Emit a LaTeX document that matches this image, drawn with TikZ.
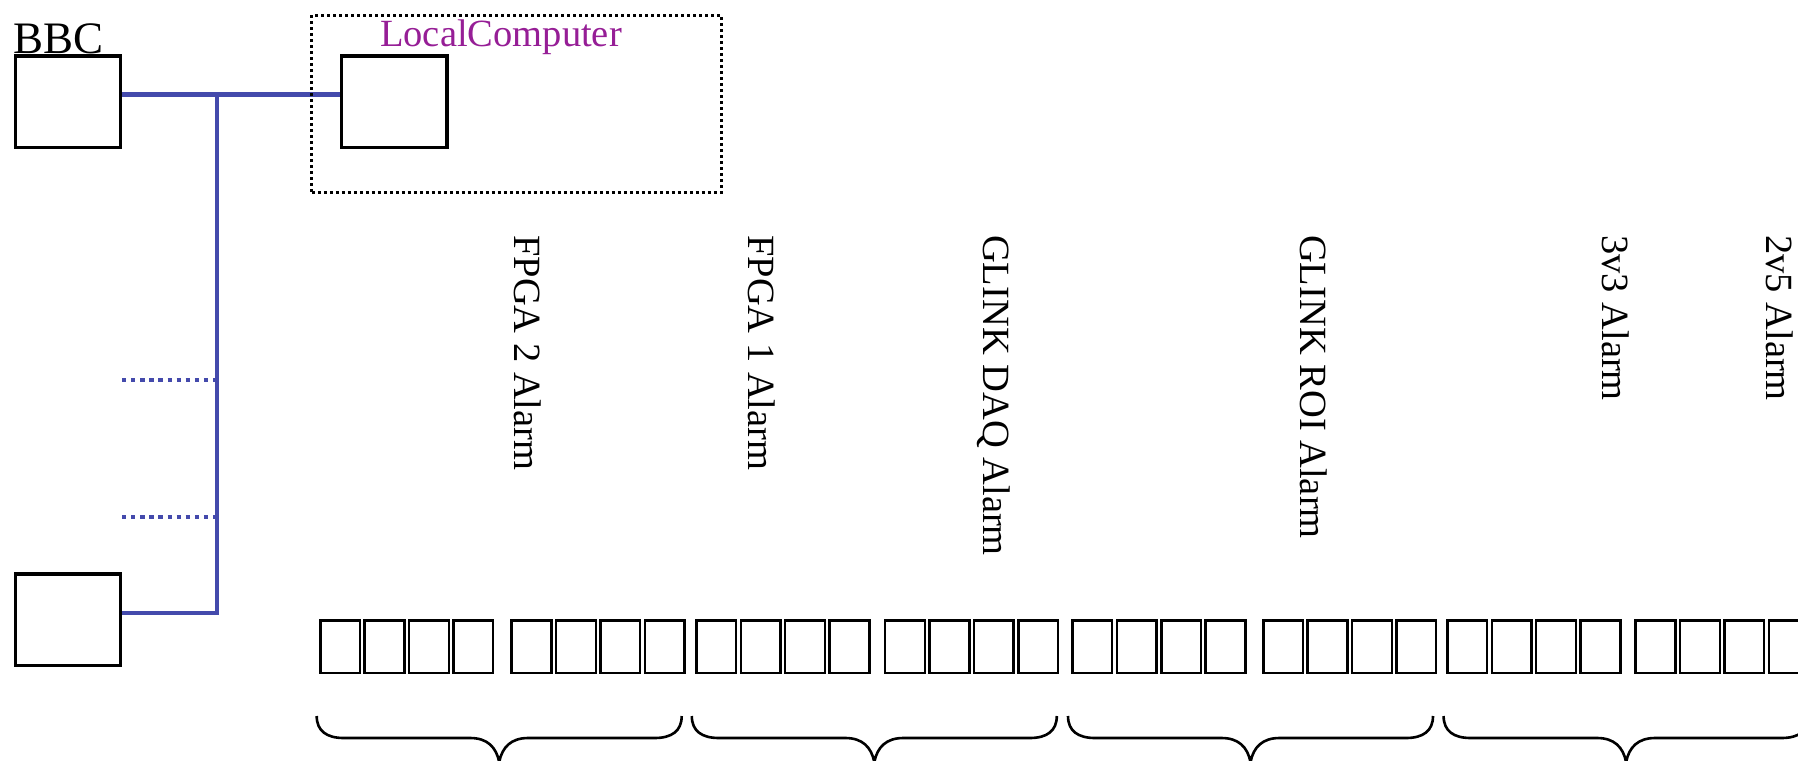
\documentclass[tikz,border=0pt]{standalone}
\usepackage{fontspec}
\setmainfont{Liberation Serif}
\definecolor{busblue}{RGB}{68,74,172}
\definecolor{lcpurple}{RGB}{150,30,150}
\begin{document}
\begin{tikzpicture}[x=1pt,y=-1pt,
  bigbox/.style={draw=black,line width=3.4pt,minimum width=105.4pt,minimum height=91.3pt,inner sep=0pt},
  cellbox/.style={draw=black,line width=2.5pt,minimum width=39.7pt,minimum height=52.7pt,inner sep=0pt},
  bus/.style={draw=busblue,line width=4.3pt},
  busdot/.style={draw=busblue,line width=4.3pt,dash pattern=on 4.3pt off 4.8pt},
  lcframestyle/.style={draw=black,line width=3pt,dash pattern=on 3pt off 3pt,minimum width=409.6pt,minimum height=176.7pt,inner sep=0pt},
  alarm/.style={rotate=-90,anchor=base west,inner sep=0pt,font=\fontsize{38.5}{40}\selectfont},
  bracepath/.style={draw=black,line width=2.6pt}
]
\useasboundingbox (0,0) rectangle (1798,760);
\clip (0,0) rectangle (1798,760);

% BBC boxes and local computer
\node[bigbox] (bbc1) at (68,101.8) {};
\node[bigbox] (bbc2) at (68,619.8) {};
\node[anchor=base west,inner sep=0pt,font=\fontsize{45}{48}\selectfont] (bbclabel) at (13,53.3) {BBC};
\node[bigbox] (lc) at (394.2,101.8) {};
\node[anchor=base west,inner sep=0pt,text=lcpurple,font=\fontsize{38.5}{40}\selectfont] (lclabel) at (380,46.7) {LocalComputer};

% bus
\coordinate (jtop) at (217.3,94.5);
\coordinate (jbot) at (217.3,612.7);
\draw[bus] ([yshift=7.3pt]bbc1.east) -- (jtop) -- ([yshift=7.3pt]lc.west);
\draw[bus] (jtop) -- (jbot) -- ([yshift=7.1pt]bbc2.east);
\coordinate (d1) at (122,380);
\coordinate (d1j) at (217.3,380);
\coordinate (d2) at (122,516.7);
\coordinate (d2j) at (217.3,516.7);
\draw[busdot] (d1) -- (d1j);
\draw[busdot] (d2) -- (d2j);

\node[lcframestyle] (lcframe) at (516.7,103.65) {};

% alarm labels
\node[alarm] (a1) at (514,235) {FPGA 2 Alarm};
\node[alarm] (a2) at (748,235) {FPGA 1 Alarm};
\node[alarm] (a3) at (983,235) {GLINK DAQ Alarm};
\node[alarm] (a4) at (1300,235) {GLINK ROI Alarm};
\node[alarm] (a5) at (1602,235) {3v3 Alarm};
\node[alarm] (a6) at (1766,235) {2v5 Alarm};

% cells
\foreach \g/\s in {0/319.3,1/510.7,2/695.4,3/884.2,4/1071.5,5/1262.3,6/1446.4,7/1634.7}{
  \foreach \j in {0,...,3}{
    \node[cellbox] (c\g-\j) at ({\s+\j*44.4+20.85},646.7) {};
  }
}

% braces
\foreach \a in {316.7,691.8,1068,1443.6}{
  \pgfmathsetmacro\b{\a+365}
  \pgfmathsetmacro\m{\a+182.5}
  \draw[bracepath] (\a,716) .. controls (\a,731) and ({\a+10},738) .. ({\a+27},738)
    -- ({\m-29},738) .. controls ({\m-12},738) and ({\m-3},747) .. (\m,762)
    .. controls ({\m+3},747) and ({\m+12},738) .. ({\m+29},738)
    -- ({\b-27},738) .. controls ({\b-10},738) and (\b,731) .. (\b,716);
}
\end{tikzpicture}
\end{document}
